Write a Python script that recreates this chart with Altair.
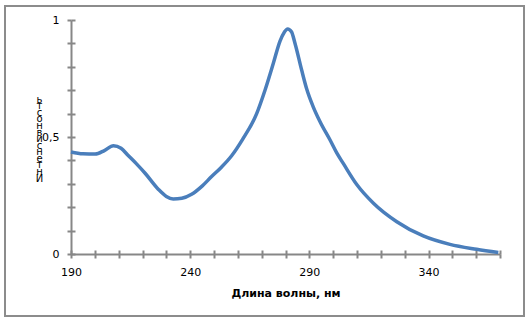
import altair as alt
import pandas as pd

wavelength = [190, 195.0, 200.1, 204.0, 207.8, 211.0, 213.9, 217.5, 221.1, 226.6, 230.0,
              232.9, 236.5, 240.6, 245.0, 249.0, 253.0, 257.4, 262.0, 267.9, 271.4,
              274.9, 277.7, 279.5, 280.9, 282.5, 284.0, 286.8, 288.9, 291.5, 294.5,
              298.7, 301.5, 304.3, 309.9, 316.9, 326.7, 337.8, 349.0, 360.2, 369.3]
intensity = [0.436, 0.428, 0.427, 0.442, 0.463, 0.452, 0.422, 0.385, 0.345, 0.277, 0.246,
             0.235, 0.238, 0.255, 0.290, 0.331, 0.370, 0.420, 0.490, 0.600, 0.700,
             0.815, 0.910, 0.948, 0.962, 0.950, 0.900, 0.785, 0.705, 0.632, 0.565,
             0.487, 0.432, 0.386, 0.297, 0.217, 0.138, 0.077, 0.041, 0.020, 0.006]
x_ticks = [190, 200, 210, 220, 230, 240, 250, 260, 270, 280, 290, 300, 310, 320, 330, 340, 350, 360, 370]
x_labels = [190, 240, 290, 340]
y_ticks = [0, 0.1, 0.2, 0.3, 0.4, 0.5, 0.6, 0.7, 0.8, 0.9, 1.0]
x_title = "Длина волны, нм"
y_title_word = "Интенсивность"

df = pd.DataFrame({"w": wavelength, "v": intensity})

GRAY = "#878787"
FONT = "DejaVu Sans"

xscale = alt.Scale(domain=[190, 370], nice=False, zero=False)
yscale = alt.Scale(domain=[0, 1], nice=False)

label_expr_x = "indexof([" + ",".join(str(v) for v in x_labels) + "], datum.value) >= 0 ? datum.label : ''"
label_expr_y = ("abs(datum.value-0.5)<1e-6 ? '0,5' : "
                "(abs(datum.value)<1e-6 ? '0' : (abs(datum.value-1)<1e-6 ? '1' : ''))")

x_axis = alt.Axis(values=x_ticks, labelExpr=label_expr_x, title=x_title,
                  grid=False, domainColor=GRAY, domainWidth=2, tickColor=GRAY,
                  tickWidth=2, tickSize=4, labelPadding=8, labelFont=FONT,
                  labelFontSize=11, labelColor="#000000", titleFont=FONT,
                  titleFontSize=11, titleFontWeight="bold", titleColor="#000000",
                  titlePadding=10, labelFlush=False)
y_axis = alt.Axis(values=y_ticks, labelExpr=label_expr_y,
                  title=list(reversed(list(y_title_word))),
                  grid=False, domainColor=GRAY, domainWidth=2, tickColor=GRAY,
                  tickWidth=2, tickSize=4, labelPadding=8, labelFont=FONT,
                  labelFontSize=11, labelColor="#000000", titleFont=FONT,
                  titleFontSize=10, titleFontWeight="normal", titleColor="#000000",
                  titleAngle=0, titleAlign="center", titleBaseline="top",
                  titleX=-32, titleY=74, titleLineHeight=6.6, labelFlush=False)

line = alt.Chart(df).mark_line(color="#4a7ebb", strokeWidth=3.5,
                               interpolate="monotone").encode(
    x=alt.X("w:Q", scale=xscale, axis=x_axis),
    y=alt.Y("v:Q", scale=yscale, axis=y_axis),
)

# inner half of the crossing ticks
x_axis2 = alt.Axis(orient="top", offset=-234, values=x_ticks, labels=False,
                   title=None, grid=False, domain=False, tickColor=GRAY,
                   tickWidth=2, tickSize=4)
y_axis2 = alt.Axis(orient="right", offset=-429, values=y_ticks, labels=False,
                   title=None, grid=False, domain=False, tickColor=GRAY,
                   tickWidth=2, tickSize=4)
ticks_layer = alt.Chart(df).mark_line(opacity=0).encode(
    x=alt.X("w:Q", scale=xscale, axis=x_axis2),
    y=alt.Y("v:Q", scale=yscale, axis=y_axis2),
)

frame = alt.Chart(pd.DataFrame({"a": [0]})).mark_rect(
    fill=None, stroke="#8c8c8c", strokeWidth=2, clip=False).encode(
    x=alt.value(-66), x2=alt.value(453), y=alt.value(-14), y2=alt.value(296))

chart = alt.layer(ticks_layer, line, frame).resolve_axis(
    x="independent", y="independent"
).properties(
    width=429, height=234,
    autosize=alt.AutoSizeParams(type="none"),
    padding={"left": 71, "top": 20, "right": 28, "bottom": 67},
    background="white",
).configure_view(stroke=None)

chart.save("out.html", embed_options={"renderer": "svg", "actions": False})
